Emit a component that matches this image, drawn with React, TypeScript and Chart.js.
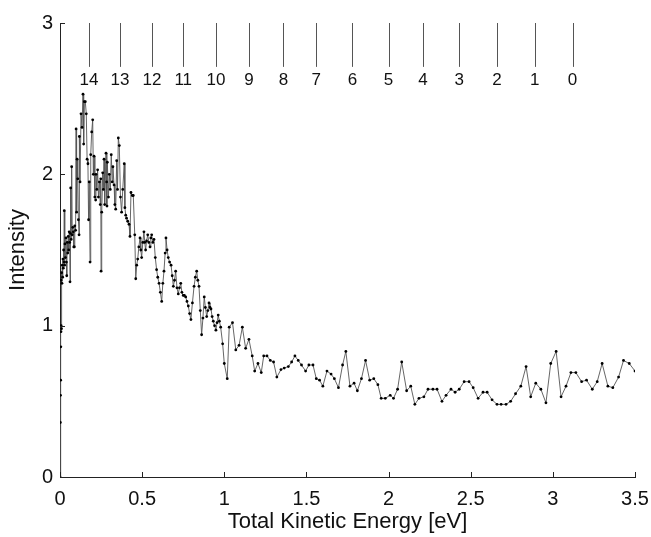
import React, { useEffect, useRef } from "react";
import { Chart, registerables } from "chart.js";

Chart.register(...registerables);

// Measured spectrum: total kinetic energy [eV]
const energy: number[] = [
  0.000, 0.002, 0.003, 0.004, 0.005, 0.006, 0.007, 0.008, 0.009, 0.010,
  0.012, 0.014, 0.016, 0.018, 0.020, 0.022, 0.024, 0.026, 0.028, 0.030,
  0.033, 0.036, 0.039, 0.041, 0.044, 0.047, 0.050, 0.053, 0.056, 0.059,
  0.061, 0.063, 0.065, 0.068, 0.071, 0.074, 0.078, 0.081, 0.084, 0.087,
  0.090, 0.095, 0.098, 0.101, 0.104, 0.108, 0.112, 0.116, 0.118, 0.122,
  0.128, 0.134, 0.140, 0.144, 0.148, 0.154, 0.160, 0.165, 0.170, 0.174,
  0.178, 0.183, 0.187, 0.193, 0.199, 0.203, 0.207, 0.212, 0.217, 0.219,
  0.224, 0.229, 0.234, 0.240, 0.245, 0.248, 0.250, 0.254, 0.260, 0.264,
  0.268, 0.272, 0.280, 0.284, 0.286, 0.288, 0.295, 0.300, 0.306, 0.312,
  0.318, 0.322, 0.329, 0.334, 0.339, 0.345, 0.350, 0.355, 0.361, 0.368,
  0.375, 0.382, 0.391, 0.395, 0.400, 0.405, 0.412, 0.420, 0.426, 0.432,
  0.440, 0.446, 0.455, 0.461, 0.467, 0.473, 0.480, 0.487, 0.492, 0.497,
  0.504, 0.511, 0.516, 0.521, 0.527, 0.534, 0.541, 0.548, 0.553, 0.558,
  0.565, 0.572, 0.580, 0.588, 0.595, 0.603, 0.611, 0.619, 0.626, 0.633,
  0.640, 0.645, 0.652, 0.659, 0.667, 0.676, 0.683, 0.690, 0.697, 0.704,
  0.712, 0.720, 0.727, 0.735, 0.742, 0.750, 0.757, 0.765, 0.773, 0.781,
  0.789, 0.797, 0.806, 0.816, 0.824, 0.832, 0.839, 0.846, 0.854, 0.862,
  0.870, 0.878, 0.885, 0.893, 0.900, 0.907, 0.913, 0.919, 0.926, 0.933,
  0.941, 0.949, 0.956, 0.963, 0.970, 0.978, 0.990, 1.000, 1.018, 1.030,
  1.050, 1.070, 1.090, 1.110, 1.130, 1.150, 1.170, 1.185, 1.205, 1.225,
  1.240, 1.260, 1.280, 1.300, 1.320, 1.345, 1.365, 1.390, 1.410, 1.430,
  1.450, 1.470, 1.495, 1.515, 1.540, 1.560, 1.580, 1.600, 1.625, 1.650,
  1.670, 1.695, 1.720, 1.740, 1.765, 1.790, 1.810, 1.835, 1.860, 1.885,
  1.910, 1.935, 1.955, 1.980, 2.010, 2.030, 2.055, 2.080, 2.110, 2.135,
  2.160, 2.185, 2.215, 2.240, 2.270, 2.295, 2.325, 2.350, 2.380, 2.405,
  2.430, 2.460, 2.490, 2.515, 2.545, 2.575, 2.600, 2.630, 2.660, 2.685,
  2.715, 2.743, 2.773, 2.805, 2.837, 2.865, 2.896, 2.927, 2.958, 2.987,
  3.020, 3.050, 3.080, 3.110, 3.140, 3.175, 3.205, 3.240, 3.270, 3.300,
  3.335, 3.365, 3.400, 3.430, 3.465, 3.500,
];

const intensity: number[] = [
  0.00, 0.36, 0.54, 0.64, 0.86, 0.96, 1.00, 1.30, 0.98, 1.35,
  1.28, 1.40, 1.32, 1.44, 1.38, 1.50, 1.42, 1.76, 1.40, 1.54,
  1.45, 1.58, 1.42, 1.33, 1.55, 1.48, 1.59, 1.50, 1.62, 1.55,
  1.29, 1.61, 1.91, 1.57, 2.05, 1.60, 1.65, 1.62, 1.52, 1.52,
  1.66, 1.63, 2.30, 1.75, 2.10, 1.97, 1.70, 1.60, 2.25, 1.95,
  2.40, 2.31, 2.53, 2.20, 2.48, 2.48, 2.40, 2.10, 2.07, 1.70,
  1.95, 1.42, 2.13, 2.28, 2.36, 2.00, 2.12, 1.85, 1.83, 2.00,
  1.90, 2.03, 1.85, 1.95, 1.80, 1.97, 1.36, 1.75, 2.01, 1.90,
  2.10, 1.80, 2.14, 1.95, 1.79, 2.08, 1.85, 2.00, 1.90, 2.13,
  1.95, 2.05, 1.93, 1.80, 1.77, 2.09, 1.90, 2.24, 2.19, 1.85,
  1.75, 1.90, 2.07, 1.78, 1.73, 1.71, 1.69, 1.67, 1.59, 1.88,
  1.86, 1.86, 1.60, 1.31, 1.40, 1.44, 1.52, 1.58, 1.50, 1.45,
  1.55, 1.62, 1.55, 1.50, 1.56, 1.60, 1.55, 1.52, 1.58, 1.60,
  1.55, 1.57, 1.45, 1.37, 1.32, 1.28, 1.22, 1.16, 1.28, 1.36,
  1.48, 1.58, 1.50, 1.45, 1.42, 1.40, 1.33, 1.26, 1.30, 1.36,
  1.25, 1.21, 1.25, 1.28, 1.22, 1.20, 1.20, 1.19, 1.16, 1.13,
  1.08, 1.04, 1.15, 1.26, 1.32, 1.36, 1.30, 1.26, 1.10, 0.94,
  1.05, 1.19, 1.12, 1.06, 1.10, 1.15, 1.12, 1.11, 1.06, 1.03,
  1.00, 0.97, 1.02, 1.07, 1.03, 0.99, 0.88, 0.75, 0.65, 0.99,
  1.02, 0.84, 0.87, 0.99, 0.85, 0.91, 0.80, 0.70, 0.75, 0.69,
  0.80, 0.80, 0.77, 0.76, 0.66, 0.71, 0.72, 0.73, 0.76, 0.80,
  0.77, 0.74, 0.70, 0.74, 0.74, 0.65, 0.64, 0.60, 0.70, 0.68,
  0.65, 0.59, 0.74, 0.83, 0.60, 0.62, 0.57, 0.65, 0.77, 0.64,
  0.65, 0.61, 0.52, 0.52, 0.54, 0.52, 0.58, 0.76, 0.57, 0.60,
  0.48, 0.52, 0.53, 0.58, 0.58, 0.58, 0.50, 0.54, 0.58, 0.56,
  0.58, 0.63, 0.63, 0.59, 0.52, 0.56, 0.56, 0.51, 0.48, 0.48,
  0.48, 0.50, 0.55, 0.60, 0.73, 0.53, 0.62, 0.58, 0.49, 0.75,
  0.83, 0.53, 0.60, 0.69, 0.69, 0.63, 0.64, 0.58, 0.63, 0.75,
  0.60, 0.59, 0.66, 0.77, 0.75, 0.70,
];

// Vibrational level markers at the top
const levelLabels: string[] = ["14", "13", "12", "11", "10", "9", "8", "7", "6", "5", "4", "3", "2", "1", "0"];
const levelEnergy: number[] = [0.177, 0.365, 0.56, 0.75, 0.95, 1.15, 1.36, 1.56, 1.78, 2.0, 2.21, 2.43, 2.66, 2.89, 3.12];
const levelLineTop = 3.0;
const levelLineBottom = 2.71;
const levelLabelY = 2.62;

const xTicks: number[] = [0, 0.5, 1, 1.5, 2, 2.5, 3, 3.5];
const yTicks: number[] = [0, 1, 2, 3];

const FONT = "'Liberation Sans', Arial, Helvetica, sans-serif";

const overlayPlugin = {
  id: "overlay",
  afterDatasetsDraw(chart: any) {
    const { ctx, scales } = chart;
    const xs = scales.x;
    const ys = scales.y;
    ctx.save();
    // inward ticks
    ctx.strokeStyle = "#222";
    ctx.lineWidth = 1;
    const x0 = xs.getPixelForValue(0);
    const y0 = ys.getPixelForValue(0);
    xTicks.forEach((t) => {
      const px = Math.round(xs.getPixelForValue(t)) + 0.5;
      ctx.beginPath();
      ctx.moveTo(px, y0);
      ctx.lineTo(px, y0 - 5);
      ctx.stroke();
    });
    yTicks.forEach((t) => {
      const py = Math.round(ys.getPixelForValue(t)) + 0.5;
      ctx.beginPath();
      ctx.moveTo(x0, py);
      ctx.lineTo(x0 + 5, py);
      ctx.stroke();
    });
    // level lines + labels
    ctx.font = `17px ${FONT}`;
    ctx.fillStyle = "#111";
    ctx.textAlign = "center";
    ctx.textBaseline = "middle";
    levelEnergy.forEach((e, i) => {
      const px = Math.round(xs.getPixelForValue(e)) + 0.5;
      ctx.strokeStyle = "#555";
      ctx.beginPath();
      ctx.moveTo(px, ys.getPixelForValue(levelLineTop));
      ctx.lineTo(px, ys.getPixelForValue(levelLineBottom));
      ctx.stroke();
      ctx.fillText(levelLabels[i], xs.getPixelForValue(e), ys.getPixelForValue(levelLabelY));
    });
    ctx.restore();
  },
};

export default function App() {
  const ref = useRef<HTMLCanvasElement | null>(null);
  useEffect(() => {
    if (!ref.current) return;
    const data = energy.map((x, i) => ({ x, y: intensity[i] }));
    const chart = new Chart(ref.current, {
      type: "scatter",
      data: {
        datasets: [
          {
            data,
            showLine: true,
            borderColor: "#555",
            borderWidth: 0.9,
            pointRadius: 1.4,
            pointBackgroundColor: "#000",
            pointBorderColor: "#000",
            pointBorderWidth: 0,
          },
        ],
      },
      options: {
        responsive: false,
        animation: false,
        events: [],
        layout: { padding: { left: 0, right: 16, top: 23, bottom: 0 } },
        plugins: { legend: { display: false }, tooltip: { enabled: false } },
        scales: {
          x: {
            type: "linear",
            min: 0,
            max: 3.5,
            afterFit: (s: any) => {
              s.height = 60;
              s.paddingRight = 0;
              s.paddingLeft = 0;
            },
            afterBuildTicks: (s: any) => {
              s.ticks = xTicks.map((v) => ({ value: v }));
            },
            grid: { display: false, drawTicks: false },
            border: { display: true, color: "#222", width: 1 },
            ticks: {
              color: "#111",
              padding: 10,
              font: { family: FONT, size: 20 },
              callback: (v: any) => String(v),
            },
            title: {
              display: true,
              text: "Total Kinetic Energy [eV]",
              color: "#111",
              font: { family: FONT, size: 22 },
              padding: { top: 0, bottom: 2 },
            },
          },
          y: {
            type: "linear",
            min: 0,
            max: 3,
            afterFit: (s: any) => {
              s.width = 60;
            },
            afterBuildTicks: (s: any) => {
              s.ticks = yTicks.map((v) => ({ value: v }));
            },
            grid: { display: false, drawTicks: false },
            border: { display: true, color: "#222", width: 1 },
            ticks: {
              color: "#111",
              padding: 7,
              font: { family: FONT, size: 20 },
              callback: (v: any) => String(v),
            },
            title: {
              display: true,
              text: "Intensity",
              color: "#111",
              font: { family: FONT, size: 22 },
              padding: { top: 5, bottom: 0 },
            },
          },
        },
      },
      plugins: [overlayPlugin],
    });
    return () => chart.destroy();
  }, []);
  return (
    <div style={{ position: "fixed", left: 0, top: 0, width: 651, height: 537, background: "#fff" }}>
      <canvas ref={ref} width={651} height={537} style={{ display: "block", width: 651, height: 537 }} />
    </div>
  );
}
